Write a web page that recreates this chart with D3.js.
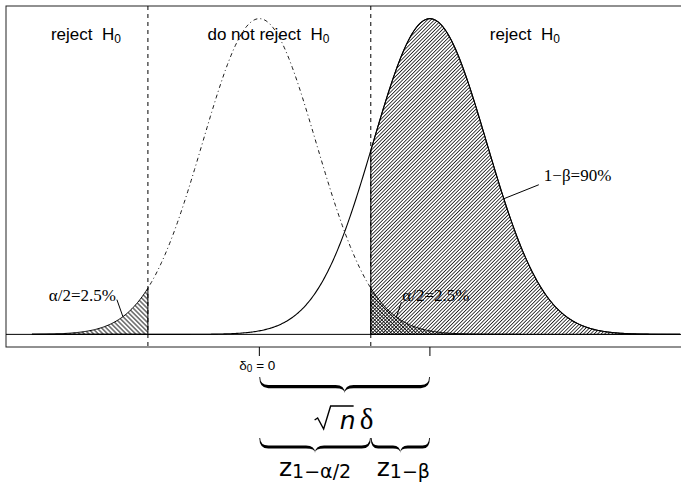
<!DOCTYPE html>
<meta charset="utf-8">
<style>
body { margin: 0; background: #fff; }
svg { display: block; }
.region { font-family: "Liberation Sans", Arial, sans-serif; font-size: 17px; white-space: pre; }
.note { font-family: "Liberation Serif", "Times New Roman", serif; font-size: 17px; }
.math { font-family: "DejaVu Sans", sans-serif; }
</style>
<svg width="681" height="483"></svg>
<script src="https://cdnjs.cloudflare.com/ajax/libs/d3/7.8.5/d3.min.js"></script>
<script>

// two normal densities, in units of the null sd
var means = [0, 3];            // H0, H1
var sds = [1, 1];
var critical = [-1.96, 1.96];
var zRange = [-4, 7.4];
var tickAt = [0, 3];
var regionText = ["reject  H", "do not reject  H", "reject  H"];
var regionAt = [-3.05, 0.16, 4.67];
var noteText = ["α/2=2.5%", "α/2=2.5%", "1−β=90%"];
var noteAt = [-2.40, 2.41, 4.30];   // where the leader touches the curve
var noteCurve = [0, 0, 1];          // which density it points at

var svg = d3.select("svg");

function dnorm(z, m, s) {
  var u = (z - m) / s;
  return Math.exp(-u * u / 2) / (s * Math.sqrt(2 * Math.PI));
}

// R-like 4% padding around the data
var xpad = 0.04 * (zRange[1] - zRange[0]);
var ymax = dnorm(0, 0, 1);
var x = d3.scaleLinear()
    .domain([zRange[0] - xpad, zRange[1] + xpad])
    .range([6, 706]);
var y = d3.scaleLinear()
    .domain([-0.04 * ymax, 1.04 * ymax])
    .range([347, 6]);

var step = 0.02;
function pts(k, a, b) {
  var m = means[k], s = sds[k];
  var out = d3.range(a, b, step).map(function(z) { return [z, dnorm(z, m, s)]; });
  out.push([b, dnorm(b, m, s)]);
  return out;
}

// hatching patterns
var defs = svg.append("defs");
function hatch(id, spacing, angle, w) {
  var p = defs.append("pattern")
      .attr("id", id)
      .attr("patternUnits", "userSpaceOnUse")
      .attr("width", spacing)
      .attr("height", 10)
      .attr("patternTransform", "rotate(" + angle + ")");
  p.append("line")
      .attr("x1", spacing / 2).attr("y1", 0).attr("x2", spacing / 2).attr("y2", 10)
      .attr("stroke", "#000").attr("stroke-width", w);
}
hatch("fwd", 2.5, 45, 0.8);
hatch("backWide", 3.3, -45, 0.9);
hatch("back", 2.5, -45, 0.8);

var area = d3.area()
    .x(function(d) { return x(d[0]); })
    .y0(y(0))
    .y1(function(d) { return y(d[1]); });
var line = d3.line()
    .x(function(d) { return x(d[0]); })
    .y(function(d) { return y(d[1]); });

// frame
svg.append("rect")
    .attr("x", x.range()[0]).attr("y", y.range()[1])
    .attr("width", x.range()[1] - x.range()[0])
    .attr("height", y.range()[0] - y.range()[1])
    .attr("fill", "none").attr("stroke", "#222");

// power region under H1
svg.append("path")
    .datum(pts(1, critical[1], zRange[1]))
    .attr("d", area)
    .attr("fill", "url(#fwd)").attr("stroke", "#000");

// alpha tails under H0
svg.append("path")
    .datum(pts(0, zRange[0], critical[0]))
    .attr("d", area)
    .attr("fill", "url(#backWide)").attr("stroke", "#000");
svg.append("path")
    .datum(pts(0, critical[1], 4.6))
    .attr("d", area)
    .attr("fill", "url(#back)").attr("stroke", "#000");

// H0 middle, dot-dash
svg.append("path")
    .datum(pts(0, critical[0], critical[1]))
    .attr("d", line)
    .attr("fill", "none").attr("stroke", "#000")
    .attr("stroke-width", 0.9)
    .attr("stroke-dasharray", "1,3,4,3");

// H1 full curve
svg.append("path")
    .datum(pts(1, zRange[0], zRange[1]))
    .attr("d", line)
    .attr("fill", "none").attr("stroke", "#000").attr("stroke-width", 1.1);

// zero line
svg.append("line")
    .attr("x1", x.range()[0]).attr("x2", x.range()[1])
    .attr("y1", y(0)).attr("y2", y(0))
    .attr("stroke", "#000");

// critical values
svg.selectAll(".crit")
  .data(critical)
  .enter().append("line")
    .attr("class", "crit")
    .attr("x1", function(d) { return x(d); })
    .attr("x2", function(d) { return x(d); })
    .attr("y1", y.range()[1]).attr("y2", y.range()[0])
    .attr("stroke", "#000")
    .attr("stroke-dasharray", "4,4");

// ticks below the frame
svg.selectAll(".tick")
  .data(tickAt)
  .enter().append("line")
    .attr("x1", function(d) { return x(d); })
    .attr("x2", function(d) { return x(d); })
    .attr("y1", y.range()[0]).attr("y2", y.range()[0] + 9)
    .attr("stroke", "#000");

var lbl = svg.append("text")
    .attr("x", x(tickAt[0]) - 2).attr("y", 370)
    .attr("text-anchor", "middle")
    .attr("font-family", "'Liberation Sans', Arial, sans-serif")
    .attr("font-size", 13.5);
lbl.append("tspan").text("δ");
lbl.append("tspan").attr("font-size", 10).attr("dy", 2).text("0");
lbl.append("tspan").attr("dy", -2).text(" = 0");

// region labels
regionText.forEach(function(t, i) {
  var tx = svg.append("text")
      .attr("class", "region")
      .attr("x", x(regionAt[i])).attr("y", 40)
      .attr("text-anchor", "middle");
  tx.append("tspan").text(t);
  tx.append("tspan").attr("font-size", 12).attr("dy", 3).text("0");
});

// area notes with leaders
var offs = [[-6, -17, -7, -16, "end"], [5, -15, 6, -16, "start"], [35, -14, 40, -18, "start"]];
noteText.forEach(function(t, i) {
  var ax = x(noteAt[i]), ay = y(dnorm(noteAt[i], means[noteCurve[i]], sds[noteCurve[i]]));
  var o = offs[i];
  svg.append("line")
      .attr("x1", ax).attr("y1", ay)
      .attr("x2", ax + o[0]).attr("y2", ay + o[1])
      .attr("stroke", "#000");
  svg.append("text")
      .attr("class", "note")
      .attr("x", ax + o[2]).attr("y", ay + o[3])
      .attr("text-anchor", o[4])
      .text(t);
});

// braces
function halfBrace(xs, xe, y0, h) {
  var s = xe > xs ? 1 : -1, ym = y0 + 0.6 * h, yc = y0 + h, t = 1.6;
  var q = Math.min(9, Math.abs(xe - xs) / 4);
  return "M" + xs + "," + y0 +
    "Q" + xs + "," + (ym + t) + " " + (xs + s * q) + "," + (ym + t) +
    "L" + (xe - s * q) + "," + (ym + t) +
    "Q" + xe + "," + (ym + t) + " " + xe + "," + yc +
    "Q" + xe + "," + (ym - t) + " " + (xe - s * q) + "," + (ym - t) +
    "L" + (xs + s * q) + "," + (ym - t) +
    "Q" + (xs + s * 0.8) + "," + (ym - t) + " " + (xs + s * 0.8) + "," + y0 + "Z";
}
function brace(a, b, y0, h) {
  var xa = x(a), xb = x(b), xm = (xa + xb) / 2;
  svg.append("path")
      .attr("d", halfBrace(xa, xm, y0, h) + halfBrace(xb, xm, y0, h))
      .attr("fill", "#000");
}
brace(means[0], means[1], 377, 16);
brace(means[0], critical[1], 438, 15);
brace(critical[1], means[1], 438, 15);

// sqrt(n) delta
var cx = x((means[0] + means[1]) / 2), bl = 429;
svg.append("path")
    .attr("d", "M" + (cx - 30) + "," + (bl - 9) + "L" + (cx - 27) + "," + (bl - 11) +
      "L" + (cx - 21) + "," + bl + "L" + (cx - 14) + "," + (bl - 23) + "L" + (cx + 9) + "," + (bl - 23))
    .attr("fill", "none").attr("stroke", "#000").attr("stroke-width", 1.4);
svg.append("text")
    .attr("class", "math")
    .attr("x", cx - 5).attr("y", bl)
    .attr("font-size", 25).attr("font-style", "italic")
    .text("n");
svg.append("text")
    .attr("x", cx + 15).attr("y", bl)
    .attr("font-family", "'Liberation Serif', serif")
    .attr("font-size", 29)
    .text("δ");

// z quantile labels
function zlab(cxv, sub) {
  var t = svg.append("text")
      .attr("class", "math")
      .attr("x", cxv).attr("y", 476)
      .attr("text-anchor", "middle");
  t.append("tspan").attr("font-size", 25).text("z");
  t.append("tspan").attr("font-size", 19).attr("dy", 2).text(sub);
}
zlab((x(means[0]) + x(critical[1])) / 2, "1−α/2");
zlab((x(critical[1]) + x(means[1])) / 2 + 3, "1−β");

</script>
